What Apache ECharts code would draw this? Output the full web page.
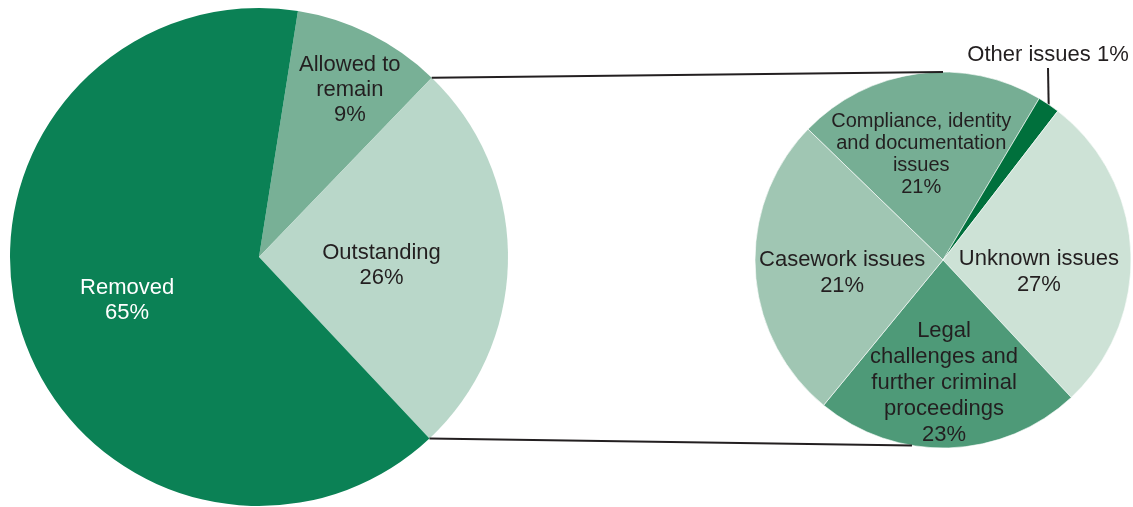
<!DOCTYPE html>
<html>
<head>
<meta charset="utf-8">
<script src="https://cdn.jsdelivr.net/npm/echarts@6/dist/echarts.min.js"></script>
<style>
  html, body { margin: 0; padding: 0; background: #fff; }
  #chart { width: 1133px; height: 507px; }
</style>
</head>
<body>
<div id="chart"></div>
<script>
// 左边：总体结果
var outcomeNames = ['Allowed to\nremain', 'Outstanding', 'Removed'];
var outcomeShares = [9.7, 25.8, 64.5];
var outcomeLabels = ['9%', '26%', '65%'];

// 右边：outstanding 的原因
var issueNames = ['Compliance, identity\nand documentation\nissues', 'Other issues', 'Unknown issues',
  'Legal\nchallenges and\nfurther criminal\nproceedings', 'Casework issues'];
var issueShares = [21.3, 1.9, 27.6, 22.9, 26.3];
var issueLabels = ['21%', '1%', '27%', '23%', '21%'];

var outcomeColors = ['#78b096', '#b9d7c9', '#0b8155'];
var issueColors = ['#76ae94', '#00703c', '#cde2d6', '#4e9a78', '#a0c6b3'];

var textColor = '#231f20';
var font = '"Liberation Sans", Arial, sans-serif';

var leftPie = { cx: 259, cy: 257, r: 249, start: 81 };
var rightPie = { cx: 943, cy: 260, r: 188, start: 135.9 };

// label 微调
var outcomeOffsets = [[34, -53], [-5, 7.5], [-10, 6]];
var issueOffsets = [[-9, -9], null, [-1, 17], [-2, 26], [-4, 7]];

// 角度（从12点顺时针）转坐标
function edgePoint(p, deg) {
  var a = deg * Math.PI / 180;
  return [p.cx + p.r * Math.sin(a), p.cy - p.r * Math.cos(a)];
}
function boundaryDeg(p, shares, idx) {
  var sum = 0, total = 0;
  shares.forEach(function (v, i) { total += v; if (i < idx) sum += v; });
  return (90 - p.start) + sum / total * 360;
}

var outcomeData = outcomeNames.map(function (n, i) {
  return {
    name: n, value: outcomeShares[i],
    itemStyle: { color: outcomeColors[i] },
    label: { color: i === 2 ? '#ffffff' : textColor }
  };
});

var issueData = issueNames.map(function (n, i) {
  var item = { name: n, value: issueShares[i], itemStyle: { color: issueColors[i] } };
  if (n === 'Other issues') {
    item.label = { position: 'outside' };
    item.labelLine = { show: true, length: 10, length2: 0, lineStyle: { color: textColor, width: 2 } };
  }
  if (i === 0) {
    item.label = { fontSize: 20, lineHeight: 22 };
  }
  return item;
});

var topA = edgePoint(leftPie, boundaryDeg(leftPie, outcomeShares, 1));
var botA = edgePoint(leftPie, boundaryDeg(leftPie, outcomeShares, 2));
var topB = edgePoint(rightPie, 0);
var botB = edgePoint(rightPie, 189.5);

var chart = echarts.init(document.getElementById('chart'));
chart.setOption({
  animation: false,
  backgroundColor: '#ffffff',
  series: [{
    type: 'pie',
    center: [leftPie.cx, leftPie.cy],
    radius: leftPie.r,
    startAngle: leftPie.start,
    clockwise: true,
    avoidLabelOverlap: false,
    emphasis: { disabled: true },
    label: {
      position: 'inside',
      fontFamily: font,
      fontSize: 22,
      lineHeight: 25,
      align: 'center',
      formatter: function (p) { return p.name + '\n' + outcomeLabels[p.dataIndex]; }
    },
    labelLine: { show: false },
    labelLayout: function (p) {
      var o = outcomeOffsets[p.dataIndex];
      return { dx: o[0], dy: o[1] };
    },
    data: outcomeData
  }, {
    type: 'pie',
    center: [rightPie.cx, rightPie.cy],
    radius: rightPie.r,
    startAngle: rightPie.start,
    clockwise: true,
    avoidLabelOverlap: false,
    emphasis: { disabled: true },
    itemStyle: { borderColor: '#ffffff', borderWidth: 0.6 },
    label: {
      position: 'inside',
      color: textColor,
      fontFamily: font,
      fontSize: 22,
      lineHeight: 26,
      align: 'center',
      formatter: function (p) {
        var sep = p.name === 'Other issues' ? ' ' : '\n';
        return p.name + sep + issueLabels[p.dataIndex];
      }
    },
    labelLine: { show: false },
    labelLayout: function (p) {
      var o = issueOffsets[p.dataIndex];
      if (!o) {
        return { x: 1048, y: 55, align: 'center', verticalAlign: 'middle' };
      }
      return { dx: o[0], dy: o[1] };
    },
    data: issueData
  }],
  graphic: [{
    type: 'line',
    shape: { x1: topA[0], y1: topA[1], x2: topB[0], y2: topB[1] },
    style: { stroke: textColor, lineWidth: 2 },
    z: 10
  }, {
    type: 'line',
    shape: { x1: botA[0], y1: botA[1], x2: botB[0], y2: botB[1] },
    style: { stroke: textColor, lineWidth: 2 },
    z: 10
  }]
});
</script>
</body>
</html>
